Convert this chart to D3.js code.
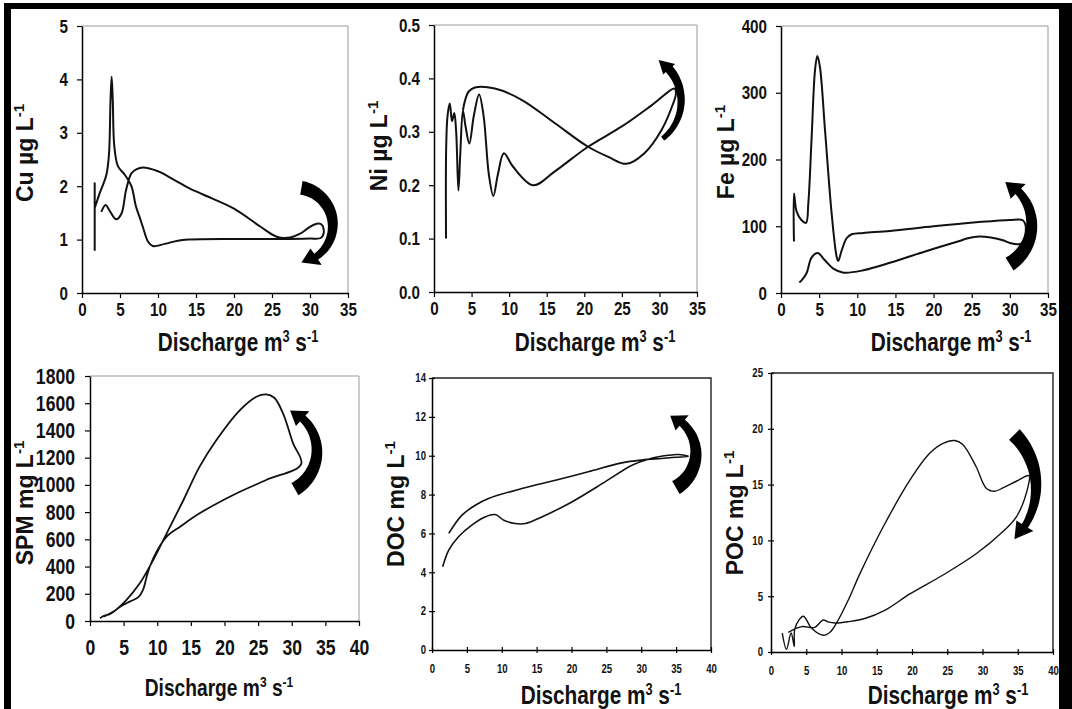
<!DOCTYPE html>
<html>
<head>
<meta charset="utf-8">
<script src="https://cdn.jsdelivr.net/npm/d3@7"></script>
<style>
body { margin: 0; background: #fff; }
svg { display: block; }
.tick text { font-family: "Liberation Sans", Arial, sans-serif; font-weight: bold; fill: #111; }
.ylab { font-family: "Liberation Sans", Arial, sans-serif; font-weight: bold; fill: #111; }
.xlab { font-family: "Liberation Sans", Arial, sans-serif; font-weight: bold; fill: #111; }
</style>
</head>
<body>
<div id="chart-area"></div>
<script>
// discharge (m3 s-1) and concentration along each hysteresis loop
// null = pen up
let cuQ = [1.67, 1.67, null, 1.7, 2.33, 3.2, 3.55, 3.75, 3.9, 4.05, 4.25, 4.74, 5.6, 6.5, 7.1, 7.7, 8.0, 8.7, 9.3, 10.9, 12.6, 14, 20, 26, 30, 31.4, 31.8, 31.6, 31.1, 30, 28.7, 27.4, 25.7, 23.5, 20, 16, 14, 12, 10, 8, 7.2, 6.5, 5.8, 5.2, 4.5, 3.6, 3.1, 2.54];
let cuC = [0.79, 2.07, null, 1.6, 1.87, 2.21, 2.6, 3.6, 4.05, 3.6, 2.75, 2.37, 2.22, 2.0, 1.62, 1.37, 1.24, 0.96, 0.88, 0.92, 0.98, 1.0, 1.01, 1.01, 1.02, 1.03, 1.12, 1.27, 1.3, 1.24, 1.11, 1.04, 1.05, 1.24, 1.58, 1.84, 1.97, 2.13, 2.28, 2.35, 2.32, 2.24, 1.93, 1.49, 1.38, 1.55, 1.65, 1.52];

let niQ = [1.6, 1.62, 1.8, 2.1, 2.4, 2.7, 2.95, 3.25, 3.5, 3.85, 4.2, 4.7, 5.3, 6.0, 6.6, 7.3, 7.9, 8.5, 9.3, 10.5, 13.2, 16, 20.5, 25, 29, 32, 32.2, 31.8, 30.3, 28, 25.6, 23.2, 20.5, 16.1, 11.65, 8.1, 5.45, 4.6, 4.1, 3.85];
let niC = [0.1, 0.27, 0.33, 0.353, 0.32, 0.335, 0.3, 0.19, 0.26, 0.34, 0.31, 0.278, 0.33, 0.37, 0.33, 0.22, 0.18, 0.22, 0.26, 0.235, 0.2, 0.225, 0.272, 0.31, 0.35, 0.381, 0.372, 0.352, 0.304, 0.26, 0.24, 0.253, 0.272, 0.316, 0.36, 0.381, 0.383, 0.375, 0.357, 0.34];

let feQ = [1.7, 1.7, 2.05, 2.7, 3.28, 3.58, 4.0, 4.46, 4.76, 5.1, 5.77, 6.64, 7.3, 7.5, 7.96, 8.6, 9.27, 10.8, 14.3, 20, 25.6, 30, 31.7, 32.05, 32.05, 31.8, 31.2, 30, 29.1, 27.5, 26, 24.5, 23.4, 19.1, 14.5, 10.8, 8.2, 6.85, 5.76, 4.8, 4.0, 3.36, 2.7, 2.4];
let feC = [77, 149, 122, 109, 105, 134, 229, 334, 355, 339, 244, 119, 54, 48, 64, 82, 88, 90, 93, 100, 106, 109.5, 109, 102, 88, 76, 73, 75, 79, 83, 84.5, 82, 78, 63, 46, 34, 30.5, 36.5, 49, 60, 53, 30, 19, 16];

let spmQ = [1.5, 2, 3, 4.5, 5.9, 7.2, 7.9, 8.4, 8.9, 9.9, 11.4, 13.4, 16.3, 21.3, 26.2, 31.4, 30.2, 28.7, 27.4, 26.2, 24.75, 22.3, 18.8, 16.3, 13.9, 11.4, 9.4, 7.4, 5.4, 3.5, 2];
let spmC = [20, 37, 51, 105, 142, 175, 230, 320, 400, 510, 620, 693, 791, 926, 1036, 1153, 1305, 1526, 1640, 1665, 1648, 1550, 1330, 1134, 889, 644, 448, 277, 154, 69, 32];

let docQ = [1.53, 2.4, 3.8, 5.7, 7.6, 9.07, 10.3, 11.9, 13.4, 15.75, 20.05, 24.8, 28.6, 31, 33.9, 35.3, 36.75, 34.9, 32.9, 30.1, 27.2, 22.4, 17.7, 12.9, 8.1, 6.2, 4.3, 2.4];
let docC = [4.28, 5.14, 5.83, 6.43, 6.85, 6.97, 6.68, 6.51, 6.51, 6.85, 7.62, 8.65, 9.5, 9.82, 10.02, 10.06, 9.97, 9.92, 9.86, 9.78, 9.63, 9.17, 8.74, 8.31, 7.8, 7.45, 6.94, 6.0];

let pocQ = [1.6, 2.2, 2.85, 3.3, 3.35, 4.0, 4.6, 5.8, 7.4, 8.4, 9.3, 11, 12.6, 15.9, 19.7, 22.5, 24.4, 26.06, 27.2, 29.1, 30.5, 31.7, 32.9, 34.8, 36.6, 36.45, 34.8, 32.9, 29.1, 24.4, 19.7, 16.2, 13.3, 11, 9.1, 8.1, 7.4, 6.2, 4.35, 2.45];
let pocC = [1.7, 0.25, 1.7, 0.5, 2.0, 2.9, 3.2, 2.1, 1.5, 1.8, 2.6, 4.7, 7.0, 11.2, 15.4, 17.8, 18.7, 18.95, 18.6, 16.6, 14.7, 14.4, 14.7, 15.3, 15.8, 14.8, 12.1, 10.8, 8.8, 6.9, 5.2, 3.76, 3.0, 2.72, 2.6, 2.7, 2.87, 2.2, 2.27, 1.76];

// tick labels
let qTicks35 = [0, 5, 10, 15, 20, 25, 30, 35];
let qTicks40 = [0, 5, 10, 15, 20, 25, 30, 35, 40];
let cuTicks = [0, 1, 2, 3, 4, 5];
let niTicks = [0, 0.1, 0.2, 0.3, 0.4, 0.5];
let feTicks = [0, 100, 200, 300, 400];
let spmTicks = [0, 200, 400, 600, 800, 1000, 1200, 1400, 1600, 1800];
let docTicks = [0, 2, 4, 6, 8, 10, 12, 14];
let pocTicks = [0, 5, 10, 15, 20, 25];

let panels = [
  {name:"Cu", unit:"µg L", q:cuQ, c:cuC, xt:qTicks35, yt:cuTicks, fmt:d3.format("d"),
   box:[82, 348, 26, 293], fs:19, tick:5, cross:false, padY:9, padX:10, frame:"#9a9a9a", sw:2,
   ylab:[25, 153], xlab:[238, 351], xfs:26,
   arrow:{q:28.0, c:1.27, r:38, a0:-80, a1:80, w0:14, w1:7, hw:20, hl:16}},
  {name:"Ni", unit:"µg L", q:niQ, c:niC, xt:qTicks35, yt:niTicks, fmt:d3.format(".1f"),
   box:[434, 697, 25, 292], fs:19, tick:5, cross:false, padY:9, padX:10, frame:"#9a9a9a", sw:2,
   ylab:[379, 146], xlab:[595, 351], xfs:26,
   arrow:{q:26.5, c:0.358, r:48, a0:52, a1:-58, w0:5, w1:9, hw:16, hl:14}},
  {name:"Fe", unit:"µg L", q:feQ, c:feC, xt:qTicks35, yt:feTicks, fmt:d3.format("d"),
   box:[781, 1048, 26, 293], fs:19, tick:5, cross:false, padY:9, padX:10, frame:"#9a9a9a", sw:2,
   ylab:[726, 152], xlab:[951, 351], xfs:26,
   arrow:{q:26.7, c:103, r:47, a0:58, a1:-64, w0:15, w1:8, hw:21, hl:16}},
  {name:"SPM", unit:"mg L", q:spmQ, c:spmC, xt:qTicks40, yt:spmTicks, fmt:d3.format("d"),
   box:[90, 359, 376, 621], fs:22, tick:5, cross:false, padY:10, padX:18, frame:"#9a9a9a", sw:1.8,
   ylab:[25, 503], xlab:[219, 696], xfs:24,
   arrow:{q:27.2, c:1249, r:44, a0:60, a1:-67, w0:14, w1:8, hw:20, hl:15}},
  {name:"DOC", unit:"mg L", q:docQ, c:docC, xt:qTicks40, yt:docTicks, fmt:d3.format("d"),
   box:[432, 711, 378, 650], fs:12, tick:3, cross:true, padY:3, padX:14, frame:"#222", sw:1.6,
   ylab:[396, 504], xlab:[601, 704], xfs:26,
   arrow:{q:32.1, c:10.14, r:40, a0:60, a1:-69, w0:15, w1:8, hw:20, hl:14}},
  {name:"POC", unit:"mg L", q:pocQ, c:pocC, xt:qTicks40, yt:pocTicks, fmt:d3.format("d"),
   box:[771, 1053, 373, 652], fs:12, tick:3, cross:true, padY:5, padX:14, frame:"#222", sw:1.4,
   ylab:[735, 513], xlab:[948, 704], xfs:26,
   arrow:{q:27.1, c:14.8, r:74, a0:-45, a1:45, w0:15, w1:7, hw:20, hl:17}}
];

let squeeze = 0.8;   // condensed look of the original lettering

let W = 1072, H = 709;
let svg = d3.select("#chart-area")
  .append("svg")
  .attr("width", W)
  .attr("height", H);

// heavy black border round the figure
svg.append("rect").attr("x", 4).attr("y", 3).attr("width", W - 4).attr("height", H).attr("fill", "#000");
svg.append("rect").attr("x", 11).attr("y", 9).attr("width", 1048).attr("height", H).attr("fill", "#fff");

function arrowPath(cx, cy, a) {
  let s = Math.sign(a.a1 - a.a0);
  let t0 = a.a0 * Math.PI / 180, t1 = a.a1 * Math.PI / 180;
  let tb = t1 - s * a.hl / a.r;
  let n = 30, outer = [], inner = [];
  for (let i = 0; i <= n; i++) {
    let t = t0 + (tb - t0) * i / n;
    let w = a.w0 + (a.w1 - a.w0) * i / n;
    outer.push([cx + (a.r + w / 2) * Math.cos(t), cy + (a.r + w / 2) * Math.sin(t)]);
    inner.push([cx + (a.r - w / 2) * Math.cos(t), cy + (a.r - w / 2) * Math.sin(t)]);
  }
  let pts = outer.concat([
    [cx + (a.r + a.hw / 2) * Math.cos(tb), cy + (a.r + a.hw / 2) * Math.sin(tb)],
    [cx + a.r * Math.cos(t1), cy + a.r * Math.sin(t1)],
    [cx + (a.r - a.hw / 2) * Math.cos(tb), cy + (a.r - a.hw / 2) * Math.sin(tb)]
  ]).concat(inner.reverse());
  return "M" + pts.map(p => p[0].toFixed(1) + "," + p[1].toFixed(1)).join("L") + "Z";
}

panels.forEach(p => {
  let [l, r, t, b] = p.box;
  let x = d3.scaleLinear().domain([0, p.xt[p.xt.length - 1]]).range([l, r]);
  let y = d3.scaleLinear().domain([0, p.yt[p.yt.length - 1]]).range([b, t]);
  let g = svg.append("g");

  // frame (top and right)
  g.append("path")
    .attr("d", "M" + l + "," + t + "H" + r + "V" + b)
    .attr("fill", "none")
    .attr("stroke", p.frame)
    .attr("stroke-width", p.cross ? 1.4 : 1);

  let xAxis = g.append("g")
    .attr("transform", "translate(0," + b + ")")
    .call(d3.axisBottom(x).tickValues(p.xt).tickSize(p.tick).tickSizeOuter(0).tickPadding(p.padX - p.tick));
  let yAxis = g.append("g")
    .attr("transform", "translate(" + l + ",0)")
    .call(d3.axisLeft(y).tickValues(p.yt).tickFormat(p.fmt).tickSize(p.tick).tickSizeOuter(0).tickPadding(p.padY));

  [xAxis, yAxis].forEach(a => {
    a.select(".domain").attr("stroke", "#000").attr("stroke-width", 1.5);
    a.selectAll(".tick line").attr("stroke", "#000").attr("stroke-width", 1.2);
    a.selectAll(".tick text")
      .attr("font-size", p.fs + "px")
      .attr("transform", "scale(" + squeeze + ",1)");
  });
  yAxis.selectAll(".tick text").attr("x", -(p.tick + p.padY) / squeeze);
  if (p.cross) {
    xAxis.selectAll(".tick line").attr("y1", -p.tick);
    yAxis.selectAll(".tick line").attr("x1", p.tick);
  }

  // loop
  let pts = p.q.map((q, i) => [q, p.c[i]]);
  let line = d3.line()
    .defined(d => d[0] != null && d[1] != null)
    .x(d => x(d[0]))
    .y(d => y(d[1]))
    .curve(d3.curveCatmullRom.alpha(0.5));
  g.append("path")
    .attr("d", line(pts))
    .attr("fill", "none")
    .attr("stroke", "#111")
    .attr("stroke-width", p.sw)
    .attr("stroke-linejoin", "round");

  // direction arrow
  g.append("path")
    .attr("d", arrowPath(x(p.arrow.q), y(p.arrow.c), p.arrow))
    .attr("fill", "#000");

  // Y label
  let yl = g.append("text")
    .attr("class", "ylab")
    .attr("transform", "translate(" + p.ylab[0] + "," + p.ylab[1] + ") rotate(-90)")
    .attr("text-anchor", "middle")
    .attr("dy", "0.36em")
    .attr("font-size", "23px");
  yl.append("tspan").text(p.name + " " + p.unit);
  yl.append("tspan").attr("dy", -9).attr("font-size", "15px").text("-1");

  // X label
  let sup = Math.round(p.xfs * 0.62) + "px";
  let xl = g.append("g")
    .attr("transform", "translate(" + p.xlab[0] + "," + p.xlab[1] + ")")
    .append("text")
    .attr("class", "xlab")
    .attr("text-anchor", "middle")
    .attr("transform", "scale(" + squeeze + ",1)")
    .attr("font-size", p.xfs + "px");
  xl.append("tspan").text("Discharge m");
  xl.append("tspan").attr("dy", -9).attr("font-size", sup).text("3");
  xl.append("tspan").attr("dy", 9).text(" s");
  xl.append("tspan").attr("dy", -9).attr("font-size", sup).text("-1");
});
</script>
</body>
</html>
